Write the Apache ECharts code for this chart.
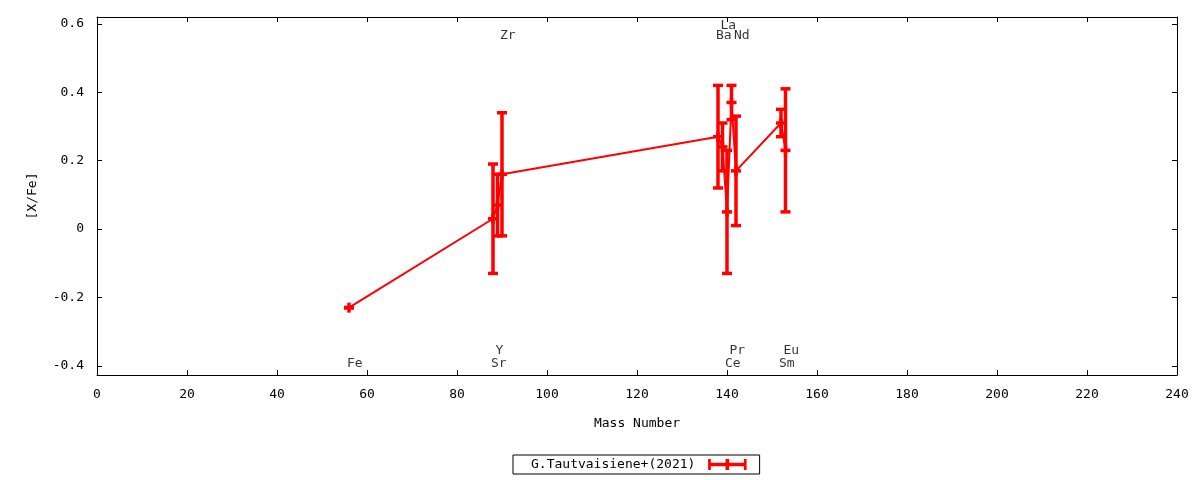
<!DOCTYPE html>
<html>
<head>
<meta charset="utf-8">
<script src="https://cdn.jsdelivr.net/npm/echarts@6/dist/echarts.min.js"></script>
<style>
html,body{margin:0;padding:0;background:#fff;}
#chart{width:1200px;height:480px;}
</style>
</head>
<body>
<div id="chart"></div>
<script>
// ---- data ----
const elements     = ['Fe', 'Sr', 'Y', 'Zr', 'Ba', 'La', 'Ce', 'Pr', 'Nd', 'Sm', 'Eu'];
const massNumbers  = [56, 88, 89, 90, 138, 139, 140, 141, 142, 152, 153];
const abundances   = [-0.23, 0.03, 0.07, 0.16, 0.27, 0.24, 0.05, 0.37, 0.17, 0.31, 0.23];
const errors       = [0, 0.16, 0.09, 0.18, 0.15, 0.07, 0.18, 0.05, 0.16, 0.04, 0.18];
const labelLevels  = [-0.395, -0.395, -0.355, 0.565, 0.565, 0.595, -0.395, -0.355, 0.565, -0.395, -0.355];
const yTickValues  = [-0.4, -0.2, 0, 0.2, 0.4, 0.6];
const seriesName   = 'G.Tautvaisiene+(2021)';

const FONT = 'DejaVu Sans Mono';
const RED = '#ff0000';

const lineData = massNumbers.map((m, i) => [m, abundances[i]]);
const errData = massNumbers.map((m, i) => [m, abundances[i], errors[i]]);
const labelData = massNumbers.map((m, i) => ({ value: [m, labelLevels[i]], name: elements[i] }));

function renderErr(params, api) {
  const x = api.value(0), y = api.value(1), e = api.value(2);
  const top = api.coord([x, y + e]);
  const bot = api.coord([x, y - e]);
  const c = api.coord([x, y]);
  const hw = 5;
  const st = { stroke: RED, lineWidth: 3.5, fill: null };
  const children = [
    { type: 'line', shape: { x1: top[0], y1: top[1], x2: bot[0], y2: bot[1] }, style: st },
    { type: 'line', shape: { x1: top[0] - hw, y1: top[1], x2: top[0] + hw, y2: top[1] }, style: st },
    { type: 'line', shape: { x1: bot[0] - hw, y1: bot[1], x2: bot[0] + hw, y2: bot[1] }, style: st },
    { type: 'line', shape: { x1: c[0] - hw, y1: c[1], x2: c[0] + hw, y2: c[1] }, style: st },
    { type: 'line', shape: { x1: c[0], y1: c[1] - hw, x2: c[0], y2: c[1] + hw }, style: st }
  ];
  return { type: 'group', children };
}

const axisCommon = {
  axisLine: { show: true, onZero: false, lineStyle: { color: '#000', width: 1 } },
  axisTick: { show: true, inside: true, length: 5, lineStyle: { color: '#000' } },
  splitLine: { show: false }
};

const iconPath = 'path://M0,0h3v4h16v-4h4v4h16v-4h3v12h-3v-4h-16v4h-4v-4h-16v4h-3z';

const option = {
  animation: false,
  backgroundColor: '#fff',
  textStyle: { fontFamily: FONT },
  grid: { left: 97, right: 23, top: 17, bottom: 105 },
  legend: {
    data: [{ name: seriesName, icon: iconPath }],
    left: 513, top: 455,
    align: 'right',
    itemWidth: 44, itemHeight: 11,
    padding: [3, 13, 3, 18],
    borderColor: '#000', borderWidth: 1, borderRadius: 0,
    itemStyle: { color: RED },
    textStyle: { fontFamily: FONT, fontSize: 13, color: '#000', padding: [0, 5, 0, 0] }
  },
  xAxis: [
    Object.assign({}, axisCommon, {
      type: 'value', min: 0, max: 240, interval: 20, position: 'bottom',
      name: 'Mass Number', nameLocation: 'middle', nameGap: 42,
      nameTextStyle: { fontFamily: FONT, fontSize: 13, color: '#000' },
      axisLabel: { fontFamily: FONT, fontSize: 13, color: '#000', margin: 13 }
    }),
    Object.assign({}, axisCommon, {
      type: 'value', min: 0, max: 240, interval: 20, position: 'top',
      axisLabel: { show: false }
    })
  ],
  yAxis: [
    Object.assign({}, axisCommon, {
      type: 'value', min: -0.427, max: 0.62, position: 'left',
      name: '[X/Fe]', nameLocation: 'middle', nameGap: 58, nameRotate: 90,
      nameTextStyle: { fontFamily: FONT, fontSize: 13, color: '#000' },
      axisTick: { show: true, inside: true, length: 5, lineStyle: { color: '#000' }, customValues: yTickValues },
      axisLabel: { fontFamily: FONT, fontSize: 13, color: '#000', margin: 13, customValues: yTickValues }
    }),
    Object.assign({}, axisCommon, {
      type: 'value', min: -0.427, max: 0.62, position: 'right',
      axisTick: { show: true, inside: true, length: 5, lineStyle: { color: '#000' }, customValues: yTickValues },
      axisLabel: { show: false, customValues: yTickValues }
    })
  ],
  series: [
    {
      name: seriesName, type: 'line', data: lineData,
      showSymbol: false, symbol: 'none',
      itemStyle: { color: RED },
      lineStyle: { color: RED, width: 2 },
      z: 2
    },
    {
      name: seriesName, type: 'custom', data: errData,
      renderItem: renderErr, itemStyle: { color: RED }, z: 3
    },
    {
      name: 'labels', type: 'scatter', data: labelData,
      symbolSize: 0, silent: true,
      label: {
        show: true, position: 'inside', align: 'left', verticalAlign: 'middle',
        offset: [-2, 0],
        formatter: p => p.name,
        fontFamily: FONT, fontSize: 13, color: '#000'
      },
      z: 4
    }
  ]
};

const chart = echarts.init(document.getElementById('chart'), null, { renderer: 'canvas' });
chart.setOption(option);
</script>
</body>
</html>
